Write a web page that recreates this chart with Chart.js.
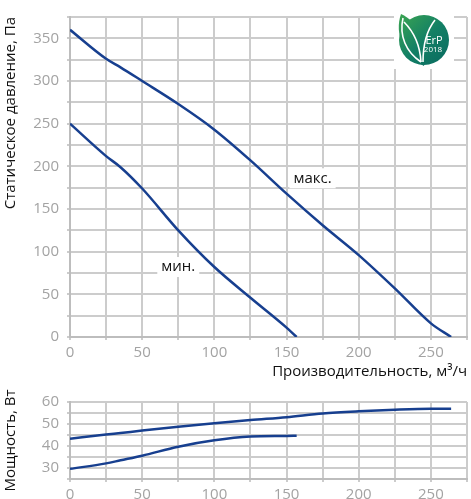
<!DOCTYPE html>
<html>
<head>
<meta charset="utf-8">
<script src="https://cdn.jsdelivr.net/npm/chart.js@4"></script>
<style>
  html, body { margin: 0; padding: 0; background: #fff; }
  canvas { display: block; }
</style>
</head>
<body>
<canvas id="pressure" width="471" height="385"></canvas>
<canvas id="power" width="471" height="114"></canvas>
<script>
// airflow, m3/h
const flowMax = [0, 25, 35, 50, 75, 100, 125, 150, 175, 200, 225, 250, 264]
const flowMin = [0, 25, 35, 50, 75, 100, 125, 150, 157]
// static pressure, Pa
const pressureMax = [360, 326, 316, 300, 273, 243, 207, 168, 131, 96, 57, 16, 0]
const pressureMin = [250, 212, 199, 174, 125, 82, 46, 11, 0]
// power, W
const powerMax = [43.3, 45.2, 45.9, 47.0, 48.7, 50.3, 51.8, 53.1, 54.8, 55.8, 56.5, 56.9, 56.9]
const powerMin = [29.6, 32.1, 33.5, 35.6, 39.7, 42.6, 44.3, 44.6, 44.7]

const xTickLabels = [0, 50, 100, 150, 200, 250]
const pressureTickLabels = [0, 50, 100, 150, 200, 250, 300, 350]
const powerTickLabels = [30, 40, 50, 60]

const curveLabels = [
  { text: 'макс.', x: 168, y: 186 },
  { text: 'мин.', x: 75, y: 82 }
]

const lineColor = '#173f8f'
const gridColor = '#cccccc'
const axisColor = '#bdbdbd'
const tickColor = '#a3a3a3'
const fontName = 'Open Sans'

const pts = (xs, ys) => xs.map((x, i) => ({ x: x, y: ys[i] }))

const curve = (data) => ({
  data: data,
  borderColor: lineColor,
  borderWidth: 2.5,
  pointRadius: 0,
  fill: false,
  cubicInterpolationMode: 'monotone'
})

const xScale = (height, title) => ({
  type: 'linear', min: 0, max: 275,
  afterFit: (s) => { s.height = height },
  grid: { color: gridColor, lineWidth: 2, tickLength: 3 },
  border: { color: axisColor, width: 2 },
  ticks: {
    stepSize: 25, color: tickColor, padding: 4, maxRotation: 0, autoSkip: false,
    font: { family: fontName, size: 15 },
    callback: (v) => xTickLabels.includes(v) ? String(v) : ''
  },
  title: title ? { display: true, text: title, align: 'end', color: '#111', padding: { top: 1 },
    font: { family: fontName, size: 15 } } : { display: false }
})

const yScale = (min, max, step, labels, title) => ({
  type: 'linear', min: min, max: max,
  afterFit: (s) => { s.width = 70 },
  grid: { color: gridColor, lineWidth: 2, tickLength: 3 },
  border: { color: axisColor, width: 2 },
  ticks: {
    stepSize: step, color: tickColor, padding: 8, autoSkip: false,
    font: { family: fontName, size: 15 },
    callback: (v) => labels.includes(v) ? String(v) : ''
  },
  title: { display: true, text: title.text, align: title.align, color: '#111', padding: { top: 2, bottom: 0 },
    font: { family: fontName, size: 15 } }
})

// white-boxed "макс." / "мин." labels and the ErP badge
const extras = {
  id: 'extras',
  afterDatasetsDraw(chart) {
    const ctx = chart.ctx
    const sx = chart.scales.x, sy = chart.scales.y
    ctx.save()
    ctx.font = '15px "' + fontName + '"'
    ctx.textBaseline = 'middle'
    ctx.textAlign = 'center'
    curveLabels.forEach(l => {
      const px = sx.getPixelForValue(l.x), py = sy.getPixelForValue(l.y)
      const w = ctx.measureText(l.text).width
      ctx.fillStyle = '#fff'
      ctx.fillRect(px - w / 2 - 4, py - 10, w + 8, 20)
      ctx.fillStyle = '#111'
      ctx.fillText(l.text, px, py)
    })

    const cx = 424, cy = 40, r = 25
    ctx.fillStyle = '#fff'
    ctx.fillRect(394, 10, 60, 59)
    const g = ctx.createLinearGradient(400, 15, 448, 65)
    g.addColorStop(0, '#3aa352')
    g.addColorStop(0.5, '#138065')
    g.addColorStop(1, '#0a6a60')
    ctx.fillStyle = g
    ctx.beginPath()
    ctx.arc(cx, cy, r, 0, Math.PI * 2)
    ctx.fill()
    // big leaf sticking out at the top left
    ctx.beginPath()
    ctx.moveTo(424, 66)
    ctx.bezierCurveTo(404, 56, 394, 34, 401, 14)
    ctx.bezierCurveTo(418, 22, 428, 40, 424, 66)
    ctx.fill()
    ctx.strokeStyle = '#fff'
    ctx.lineWidth = 1.6
    ctx.beginPath()
    ctx.moveTo(421, 62)
    ctx.bezierCurveTo(406, 52, 399, 36, 403, 18)
    ctx.stroke()
    ctx.beginPath()
    ctx.moveTo(421, 62)
    ctx.bezierCurveTo(420, 45, 414, 32, 404, 22)
    ctx.stroke()
    // small leaf on the right
    ctx.beginPath()
    ctx.moveTo(423, 62)
    ctx.bezierCurveTo(423, 44, 427, 30, 435, 20)
    ctx.stroke()
    ctx.fillStyle = '#fff'
    ctx.font = '11px "' + fontName + '"'
    ctx.fillText('ErP', 434, 41)
    ctx.font = '8px "' + fontName + '"'
    ctx.fillText('2018', 433, 50)
    ctx.restore()
  }
}

new Chart(document.getElementById('pressure'), {
  type: 'line',
  data: { datasets: [curve(pts(flowMax, pressureMax)), curve(pts(flowMin, pressureMin))] },
  options: {
    responsive: false, animation: false,
    layout: { padding: { top: 7, right: 1, left: 0, bottom: 0 } },
    plugins: { legend: { display: false }, tooltip: { enabled: false } },
    scales: {
      x: xScale(48, 'Производительность, м³/ч'),
      y: yScale(0, 375, 25, pressureTickLabels, { text: 'Статическое давление, Па', align: 'end' })
    }
  },
  plugins: [extras]
})

new Chart(document.getElementById('power'), {
  type: 'line',
  data: { datasets: [curve(pts(flowMax, powerMax)), curve(pts(flowMin, powerMin))] },
  options: {
    responsive: false, animation: false,
    layout: { padding: { top: 11, right: 1, left: 0, bottom: 0 } },
    plugins: { legend: { display: false }, tooltip: { enabled: false } },
    scales: {
      x: xScale(20, null),
      y: yScale(25, 60, 5, powerTickLabels, { text: 'Мощность, Вт', align: 'center' })
    }
  }
})
</script>
</body>
</html>
